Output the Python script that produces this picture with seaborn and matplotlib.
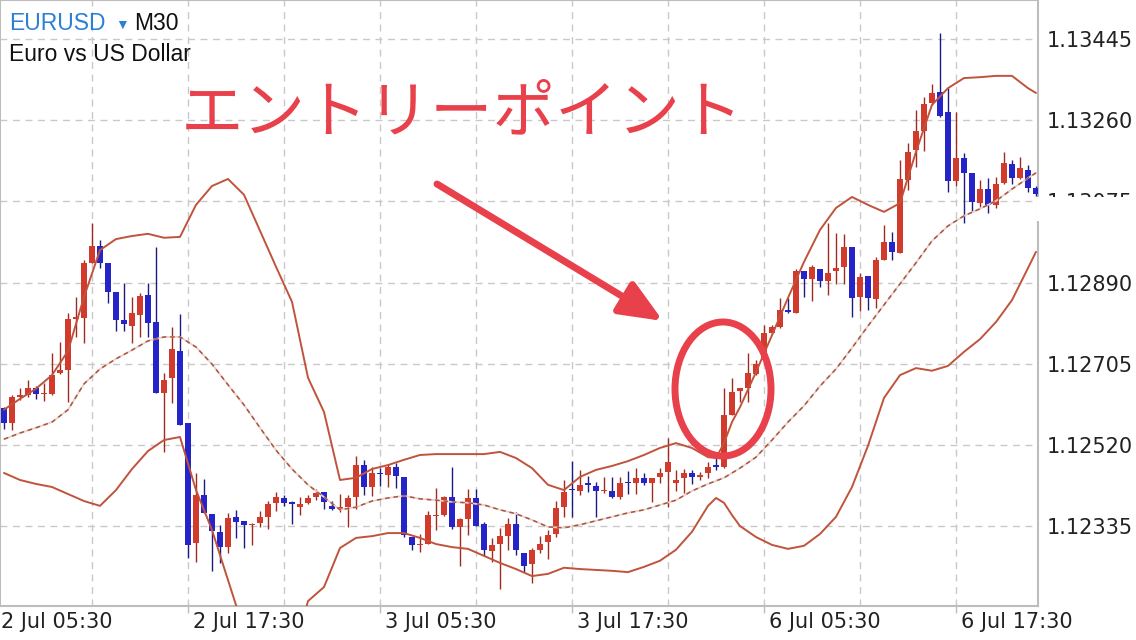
import numpy as np
import pandas as pd
import matplotlib
matplotlib.use("Agg")
import matplotlib.pyplot as plt
import seaborn as sns
from matplotlib.patches import Ellipse, Rectangle
from matplotlib.transforms import offset_copy

# ---------------- data (EURUSD M30 candles) ----------------
opens = [1.12604, 1.12570, 1.12629, 1.12634, 1.12650, 1.12636, 1.12636, 1.12684, 1.12691, 1.12807,
         1.12809, 1.12935, 1.12973, 1.12935, 1.12868, 1.12805, 1.12791, 1.12816, 1.12862, 1.12800,
         1.12638, 1.12672, 1.12734, 1.12570, 1.12296, 1.12406, 1.12363, 1.12322, 1.12287, 1.12356,
         1.12347, 1.12337, 1.12342, 1.12356, 1.12388, 1.12399, 1.12390, 1.12378, 1.12388, 1.12401,
         1.12413, 1.12381, 1.12374, 1.12378, 1.12401, 1.12474, 1.12424, 1.12456, 1.12452, 1.12470,
         1.12447, 1.12310, 1.12292, 1.12294, 1.12358, 1.12360, 1.12401, 1.12333, 1.12351, 1.12399,
         1.12340, 1.12278, 1.12294, 1.12312, 1.12340, 1.12274, 1.12249, 1.12281, 1.12299, 1.12317,
         1.12378, 1.12420, 1.12415, 1.12431, 1.12426, 1.12415, 1.12415, 1.12401, 1.12436, 1.12433,
         1.12445, 1.12433, 1.12447, 1.12458, 1.12433, 1.12445, 1.12456, 1.12447, 1.12456, 1.12474,
         1.12470, 1.12588, 1.12643, 1.12650, 1.12682, 1.12714, 1.12775, 1.12789, 1.12827, 1.12821,
         1.12916, 1.12898, 1.12921, 1.12894, 1.12916, 1.12925, 1.12971, 1.12857, 1.12905, 1.12853,
         1.12942, 1.12982, 1.12957, 1.13124, 1.13192, 1.13235, 1.13299, 1.13324, 1.13279, 1.13121,
         1.13174, 1.13140, 1.13072, 1.13103, 1.13067, 1.13117, 1.13160, 1.13128, 1.13147, 1.13106]
highs = [1.12606, 1.12634, 1.12650, 1.12668, 1.12654, 1.12661, 1.12730, 1.12755, 1.12821, 1.12857,
         1.12942, 1.13026, 1.12987, 1.12935, 1.12868, 1.12889, 1.12857, 1.12866, 1.12889, 1.12971,
         1.12684, 1.12789, 1.12818, 1.12570, 1.12456, 1.12442, 1.12363, 1.12337, 1.12365, 1.12372,
         1.12347, 1.12342, 1.12369, 1.12392, 1.12413, 1.12406, 1.12392, 1.12401, 1.12406, 1.12420,
         1.12413, 1.12392, 1.12408, 1.12406, 1.12495, 1.12486, 1.12470, 1.12467, 1.12476, 1.12479,
         1.12447, 1.12310, 1.12317, 1.12369, 1.12422, 1.12404, 1.12470, 1.12354, 1.12420, 1.12420,
         1.12344, 1.12308, 1.12331, 1.12354, 1.12367, 1.12274, 1.12285, 1.12312, 1.12326, 1.12392,
         1.12440, 1.12483, 1.12463, 1.12449, 1.12436, 1.12447, 1.12447, 1.12447, 1.12461, 1.12467,
         1.12456, 1.12445, 1.12467, 1.12536, 1.12463, 1.12465, 1.12463, 1.12458, 1.12481, 1.12490,
         1.12650, 1.12673, 1.12650, 1.12730, 1.12714, 1.12793, 1.12793, 1.12855, 1.12855, 1.12921,
         1.12916, 1.12930, 1.12921, 1.13026, 1.13003, 1.13001, 1.12971, 1.12912, 1.12905, 1.12948,
         1.13021, 1.13005, 1.13169, 1.13208, 1.13283, 1.13313, 1.13343, 1.13459, 1.13333, 1.13279,
         1.13185, 1.13140, 1.13124, 1.13128, 1.13131, 1.13188, 1.13169, 1.13176, 1.13158, 1.13110]
lows = [1.12556, 1.12554, 1.12622, 1.12629, 1.12625, 1.12620, 1.12634, 1.12682, 1.12618, 1.12766,
        1.12752, 1.12935, 1.12923, 1.12843, 1.12780, 1.12780, 1.12752, 1.12766, 1.12766, 1.12638,
        1.12504, 1.12616, 1.12565, 1.12262, 1.12253, 1.12365, 1.12233, 1.12251, 1.12274, 1.12308,
        1.12285, 1.12292, 1.12333, 1.12328, 1.12369, 1.12381, 1.12340, 1.12360, 1.12385, 1.12394,
        1.12374, 1.12372, 1.12367, 1.12333, 1.12374, 1.12406, 1.12404, 1.12426, 1.12424, 1.12422,
        1.12310, 1.12281, 1.12276, 1.12294, 1.12326, 1.12358, 1.12328, 1.12244, 1.12315, 1.12335,
        1.12267, 1.12253, 1.12192, 1.12281, 1.12269, 1.12230, 1.12205, 1.12274, 1.12260, 1.12310,
        1.12356, 1.12356, 1.12406, 1.12413, 1.12356, 1.12410, 1.12399, 1.12397, 1.12408, 1.12408,
        1.12429, 1.12390, 1.12433, 1.12378, 1.12415, 1.12410, 1.12431, 1.12440, 1.12445, 1.12463,
        1.12467, 1.12588, 1.12618, 1.12618, 1.12679, 1.12714, 1.12773, 1.12786, 1.12821, 1.12821,
        1.12857, 1.12848, 1.12880, 1.12862, 1.12887, 1.12887, 1.12812, 1.12825, 1.12827, 1.12832,
        1.12942, 1.12942, 1.12957, 1.13101, 1.13153, 1.13190, 1.13295, 1.13267, 1.13096, 1.13110,
        1.13026, 1.13051, 1.13062, 1.13049, 1.13060, 1.13115, 1.13115, 1.13126, 1.13096, 1.13087]
closes = [1.12570, 1.12629, 1.12634, 1.12650, 1.12636, 1.12638, 1.12679, 1.12691, 1.12807, 1.12812,
          1.12935, 1.12973, 1.12935, 1.12868, 1.12805, 1.12796, 1.12821, 1.12859, 1.12798, 1.12638,
          1.12668, 1.12739, 1.12565, 1.12292, 1.12406, 1.12365, 1.12324, 1.12287, 1.12354, 1.12344,
          1.12337, 1.12340, 1.12356, 1.12385, 1.12401, 1.12388, 1.12385, 1.12385, 1.12399, 1.12410,
          1.12390, 1.12374, 1.12378, 1.12399, 1.12474, 1.12424, 1.12456, 1.12454, 1.12470, 1.12449,
          1.12315, 1.12292, 1.12294, 1.12360, 1.12360, 1.12401, 1.12333, 1.12351, 1.12399, 1.12335,
          1.12281, 1.12292, 1.12312, 1.12340, 1.12281, 1.12244, 1.12281, 1.12294, 1.12315, 1.12376,
          1.12413, 1.12417, 1.12429, 1.12429, 1.12415, 1.12417, 1.12401, 1.12433, 1.12433, 1.12445,
          1.12433, 1.12445, 1.12456, 1.12481, 1.12440, 1.12456, 1.12447, 1.12452, 1.12470, 1.12470,
          1.12588, 1.12641, 1.12650, 1.12684, 1.12704, 1.12775, 1.12789, 1.12827, 1.12823, 1.12916,
          1.12898, 1.12925, 1.12894, 1.12912, 1.12923, 1.12971, 1.12855, 1.12903, 1.12855, 1.12942,
          1.12982, 1.12960, 1.13126, 1.13188, 1.13235, 1.13297, 1.13322, 1.13270, 1.13121, 1.13174,
          1.13140, 1.13074, 1.13103, 1.13067, 1.13115, 1.13163, 1.13128, 1.13151, 1.13106, 1.13092]

# Bollinger bands (read at these candle positions)
band_idx = [0, 2, 4, 6, 8, 10, 12, 14, 16, 18, 20, 22, 24, 26, 28, 30, 32, 34, 36, 38,
            40, 42, 44, 46, 48, 50, 52, 54, 56, 58, 60, 62, 64, 66, 68, 70, 72, 74, 76, 78,
            80, 82, 84, 86, 88, 89, 90, 91, 92, 94, 96, 98, 100, 102, 104, 106, 108, 110, 112, 114,
            116, 118, 120, 122, 124, 126, 128, 129]
band_upper = [1.12600, 1.12625, 1.12648, 1.12679, 1.12734, 1.12857, 1.12964, 1.12989, 1.12996, 1.13001,
              1.12992, 1.12994, 1.13067, 1.13110, 1.13126, 1.13090, 1.13008, 1.12926, 1.12846, 1.12673,
              1.12595, 1.12440, 1.12445, 1.12465, 1.12474, 1.12486, 1.12497, 1.12499, 1.12499, 1.12499,
              1.12499, 1.12504, 1.12490, 1.12467, 1.12429, 1.12417, 1.12447, 1.12463, 1.12472, 1.12483,
              1.12497, 1.12513, 1.12524, 1.12513, 1.12492, 1.12490, 1.12524, 1.12572, 1.12606, 1.12686,
              1.12770, 1.12855, 1.12937, 1.13010, 1.13060, 1.13085, 1.13067, 1.13051, 1.13071, 1.13188,
              1.13295, 1.13333, 1.13356, 1.13358, 1.13361, 1.13361, 1.13333, 1.13322]
band_middle = [1.12533, 1.12547, 1.12559, 1.12572, 1.12600, 1.12659, 1.12693, 1.12716, 1.12736, 1.12757,
               1.12766, 1.12766, 1.12743, 1.12704, 1.12657, 1.12611, 1.12559, 1.12508, 1.12465, 1.12429,
               1.12401, 1.12372, 1.12378, 1.12392, 1.12399, 1.12404, 1.12397, 1.12394, 1.12390, 1.12388,
               1.12383, 1.12372, 1.12363, 1.12349, 1.12333, 1.12331, 1.12338, 1.12347, 1.12356, 1.12365,
               1.12372, 1.12383, 1.12394, 1.12415, 1.12431, 1.12438, 1.12445, 1.12456, 1.12467, 1.12492,
               1.12531, 1.12572, 1.12609, 1.12654, 1.12693, 1.12741, 1.12791, 1.12839, 1.12887, 1.12935,
               1.12985, 1.13019, 1.13042, 1.13058, 1.13076, 1.13103, 1.13128, 1.13140]
band_lower = [1.12456, 1.12440, 1.12431, 1.12424, 1.12408, 1.12392, 1.12381, 1.12417, 1.12465, 1.12506,
              1.12531, 1.12538, 1.12417, 1.12326, 1.12212, 1.12098, 1.12019, 1.11984, 1.12030, 1.12164,
              1.12196, 1.12285, 1.12308, 1.12312, 1.12319, 1.12319, 1.12308, 1.12294, 1.12287, 1.12283,
              1.12267, 1.12251, 1.12237, 1.12221, 1.12226, 1.12240, 1.12237, 1.12235, 1.12233, 1.12230,
              1.12242, 1.12256, 1.12281, 1.12322, 1.12381, 1.12399, 1.12388, 1.12360, 1.12335, 1.12310,
              1.12292, 1.12283, 1.12290, 1.12317, 1.12356, 1.12424, 1.12518, 1.12627, 1.12679, 1.12695,
              1.12689, 1.12700, 1.12732, 1.12761, 1.12800, 1.12850, 1.12923, 1.12960]

price_ticks = [1.12335, 1.12520, 1.12705, 1.12890, 1.13075, 1.13260, 1.13445]
time_label_pos = [-1, 23, 47, 71, 95, 119]
time_labels = ["2 Jul 05:30", "2 Jul 17:30", "3 Jul 05:30", "3 Jul 17:30", "6 Jul 05:30", "6 Jul 17:30"]
grid_x = [11, 23, 35, 47, 59, 71, 83, 95, 107, 119]

# ---------------- style ----------------
RED = "#d23a2b"
RED_W = "#9e2a20"
BLUE = "#2424c8"
BLUE_W = "#1c1c80"
BAND = "#c0533c"
MARK = "#e8414b"
GRID = "#c9c9c9"

sns.set_theme(style="white")
plt.rcParams["font.family"] = ["DejaVu Sans"]

W, H = 1136, 640
fig = plt.figure(figsize=(W / 100, H / 100), dpi=100)
fig.patch.set_facecolor("white")
ax = fig.add_axes([0, 34 / H, 1038 / W, 606 / H])
ax.set_facecolor("white")

ax.set_xlim(-0.5, 129.25)
ax.set_ylim(1.121528, 1.135339)

# grid
for gx in grid_x:
    ax.axvline(gx, color=GRID, lw=1.0, ls=(0, (5, 4)), zorder=1)
for p in price_ticks:
    ax.axhline(p, color=GRID, lw=1.0, ls=(0, (5, 4)), zorder=1)

# candles
o = np.array(opens); h = np.array(highs); l = np.array(lows); c = np.array(closes)
idx = np.arange(len(o))
up = c >= o
ax.vlines(idx, l, h, colors=np.where(up, RED_W, BLUE_W), lw=1.0, zorder=3)
bottom = np.minimum(o, c)
height = np.maximum(np.abs(c - o), 0.00003)
ax.bar(idx, height, bottom=bottom, width=0.72, color=np.where(up, RED, BLUE),
       edgecolor="none", zorder=4)

# Bollinger bands
bands = pd.DataFrame({"i": band_idx, "upper": band_upper,
                      "middle": band_middle, "lower": band_lower})
sns.lineplot(data=bands, x="i", y="upper", ax=ax, color=BAND, lw=1.4, errorbar=None, zorder=5)
sns.lineplot(data=bands, x="i", y="lower", ax=ax, color=BAND, lw=1.4, errorbar=None, zorder=5)
sns.lineplot(data=bands, x="i", y="middle", ax=ax, color="#ead0c8", lw=1.3, errorbar=None, zorder=5)
sns.lineplot(data=bands, x="i", y="middle", ax=ax, color="#a9553f", lw=1.1, errorbar=None, zorder=6)
ax.lines[-1].set_dashes([3, 2.5])
ax.set_xlabel("")
ax.set_ylabel("")

# axes frame
for s in ax.spines.values():
    s.set_color("#bdbdbd")
    s.set_linewidth(1.5)

# y tick labels on the right
ax.yaxis.tick_right()
ax.set_yticks(price_ticks)
ax.set_yticklabels([f"{p:.5f}" for p in price_ticks])
ax.tick_params(axis="y", length=0, pad=6, labelsize=15, labelcolor="#222222", right=True, left=False)

# x ticks and labels
ax.set_xticks(time_label_pos[1:])
ax.set_xticklabels([""] * (len(time_label_pos) - 1))
ax.tick_params(axis="x", length=5, width=1, color="#bdbdbd", direction="out", bottom=True)
lab_tr = offset_copy(ax.get_xaxis_transform(), fig=fig, x=5, y=0, units="dots")
for pos, txt in zip(time_label_pos, time_labels):
    ax.text(pos, -0.0264, txt, transform=lab_tr, ha="left", va="center",
            fontsize=15, color="#222222", clip_on=False)

# header texts
hdr = ["Liberation Sans", "DejaVu Sans"]
fig.text(9 / W, 1 - 30 / H, "EURUSD", color="#2a7fd6", fontsize=16.5, family=hdr, va="baseline")
fig.text(122 / W, 1 - 29 / H, "▼", color="#2a7fd6", fontsize=10, family=hdr, va="baseline", ha="center")
fig.text(134 / W, 1 - 30 / H, "M30", color="#111111", fontsize=16.5, family=hdr, va="baseline")
fig.text(9 / W, 1 - 61 / H, "Euro vs US Dollar", color="#111111", fontsize=16.5, family=hdr, va="baseline")

# annotation: Japanese label, arrow, circle
fig.text(181 / W, 1 - 131 / H, "エントリーポイント", color=MARK, fontsize=45,
         family=["Noto Sans CJK JP", "DejaVu Sans"], va="baseline", ha="left")
ax.annotate("", xy=(663, H - 321), xycoords="figure pixels",
            xytext=(437, H - 184), textcoords="figure pixels",
            arrowprops=dict(arrowstyle="-|>,head_length=2.6,head_width=1.1", mutation_scale=10,
                            lw=5, color=MARK, shrinkA=0, shrinkB=0))
fig.add_artist(Ellipse((723 / W, 1 - 389 / H), 96 / W, 134 / H, transform=fig.transFigure,
                       fill=False, ec=MARK, lw=5, zorder=20))

# current price box hiding part of one label
fig.add_artist(Rectangle((1037 / W, 1 - 221 / H), 99 / W, 24 / H, transform=fig.transFigure,
                         fc="white", ec="none", zorder=15))

fig.savefig("out.png", dpi=100, facecolor="white")
